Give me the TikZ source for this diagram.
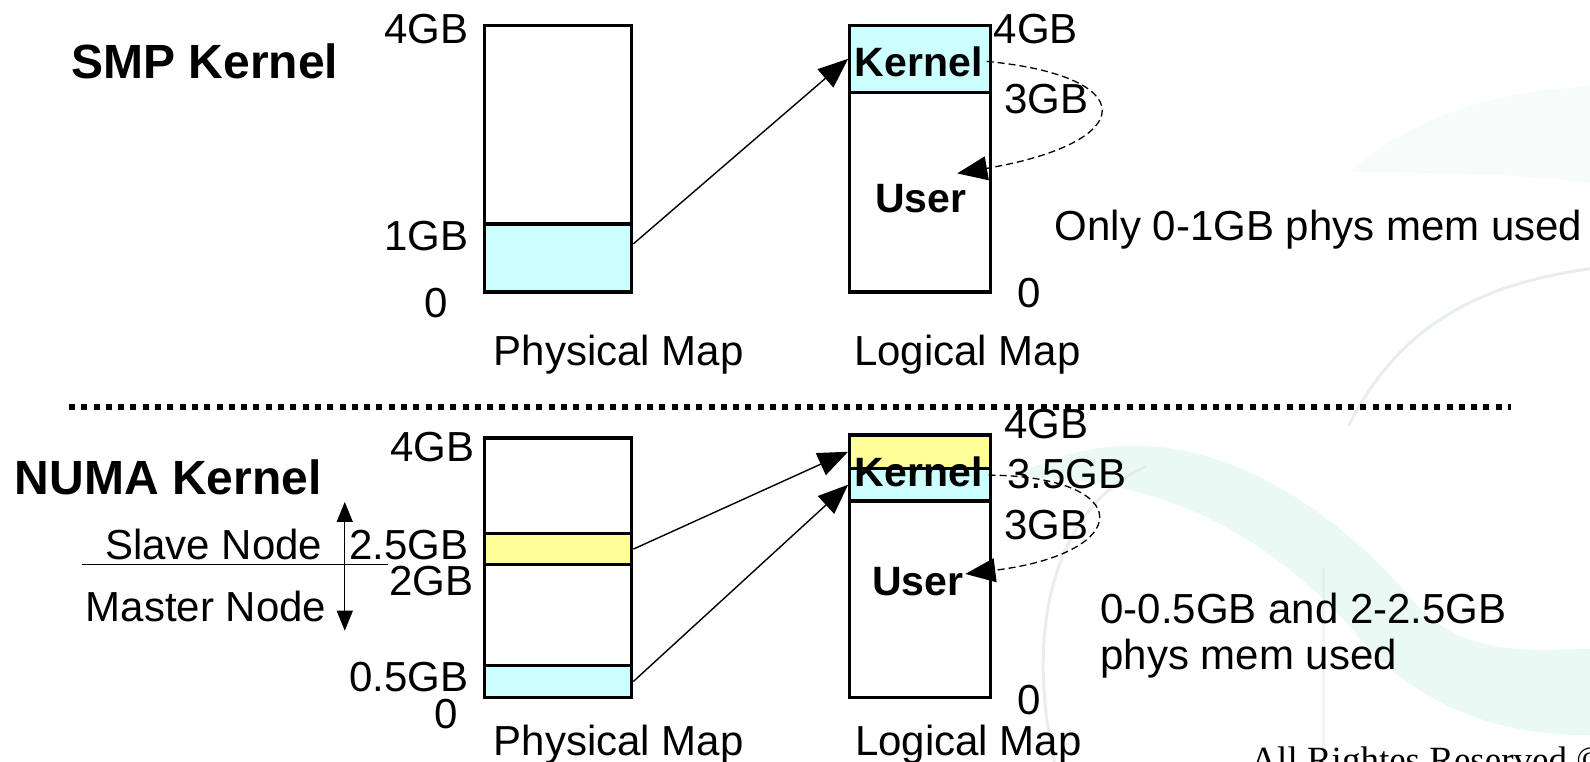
\documentclass[tikz,border=0pt]{standalone}
\usepackage{fontspec}
\setmainfont{Liberation Sans}
\newfontfamily\footerfont{Liberation Serif}
\usetikzlibrary{arrows.meta,calc,fit}

\definecolor{cyanfill}{RGB}{204,255,255}
\definecolor{yellowfill}{RGB}{255,255,153}
\definecolor{mint}{RGB}{205,242,228}
\definecolor{swirl}{RGB}{218,228,225}

\begin{document}
\begin{tikzpicture}[x=1.01403pt,y=-1.01403pt,
  lbl/.style={inner sep=0pt, font=\fontsize{42}{48}\selectfont},
  boldlbl/.style={inner sep=0pt, font=\fontsize{41}{48}\selectfont\bfseries},
  title/.style={inner sep=0pt, font=\fontsize{48}{56}\selectfont\bfseries},
  seg/.style={draw, line width=3.3pt, inner sep=0pt},
  maparrow/.style={line width=1.4pt, -{Triangle[length=30pt,width=24pt]}},
  looparrow/.style={dash pattern=on 7pt off 4pt, line width=1.3pt, -{Triangle[length=30pt,width=24pt]}},
  nodearrow/.style={line width=1.3pt, {Triangle[length=20pt,width=16pt]}-{Triangle[length=20pt,width=16pt]}},
]
\useasboundingbox (0,0) rectangle (1568,751);
\clip (0,0) rectangle (1568,751);
\fill[white] (0,0) rectangle (1568,751);

% faint background swirl
\fill[mint, opacity=0.4]
  (1000,470) .. controls (1150,390) and (1300,480) .. (1400,600)
  .. controls (1450,650) and (1520,640) .. (1568,640)
  -- (1568,725) .. controls (1480,725) and (1410,700) .. (1350,640)
  .. controls (1260,530) and (1150,470) .. (1000,470) -- cycle;
\fill[mint, opacity=0.18]
  (1330,170) .. controls (1400,110) and (1480,90) .. (1568,85)
  -- (1568,180) .. controls (1480,170) and (1400,170) .. (1330,170) -- cycle;
\draw[swirl, line width=3pt, opacity=0.6]
  (1040,751) .. controls (1010,620) and (1040,500) .. (1130,460);
\draw[swirl, line width=3pt, opacity=0.6]
  (1330,420) .. controls (1380,320) and (1460,280) .. (1568,265);
\draw[swirl, line width=3pt, opacity=0.4] (1305,560) -- (1305,751);

% ---------------- SMP kernel ----------------
\node[title, anchor=base] (smp) at (202,77) {SMP Kernel};

% physical map
\node[seg, fill=white, fit={(478,25)(623,288)}] (pA) {};
\node[seg, fill=cyanfill, fit={(478,221)(623,288)}] (pALow) {};
\node[lbl, anchor=base east] (pA4) at (462,43) {4GB};
\node[lbl, anchor=base east] (pA1) at (462,247) {1GB};
\node[lbl, anchor=base] (pA0) at (430,313) {0};
\node[lbl, anchor=base] (pAcap) at (610,360) {Physical Map};

% logical map
\node[seg, fill=white, fit={(838,25)(977,288)}] (lA) {};
\node[seg, fill=cyanfill, fit={(838,25)(977,91)}] (lAKern) {};
\node[boldlbl, anchor=base] (kA) at (906,75) {Kernel};
\node[boldlbl, anchor=base] (uA) at (908,210) {User};
\node[lbl, anchor=base west] (lA4) at (980,43) {4GB};
\node[lbl, anchor=base west] (lA3) at (990,112) {3GB};
\node[lbl, anchor=base] (lA0) at (1015,303) {0};
\node[lbl, anchor=base] (lAcap) at (954,360) {Logical Map};
\node[lbl, anchor=base west] (noteA) at (1040,237) {Only 0-1GB phys mem used};

\coordinate (uAin) at (944,171);
\draw[maparrow] ($(pALow.north east)!0.3!(pALow.south east)$) -- (lAKern.west);
\draw[looparrow] ([xshift=4pt]kA.east) .. controls (1125,75) and (1125,140) .. (uAin);

% separator
\coordinate (sepL) at (68,401);
\coordinate (sepR) at (1490,401);
\draw[line width=6pt, dash pattern=on 6pt off 6.3pt] (sepL) -- (sepR);

% ---------------- NUMA kernel ----------------
\node[title, anchor=base] (numa) at (166,488) {NUMA Kernel};

% node split marker
\coordinate (divL) at (81,557);
\coordinate (divR) at (383,557);
\draw[line width=1.3pt] (divL) -- (divR);
\coordinate (nsTop) at (340,495);
\coordinate (nsBot) at (340,622);
\draw[nodearrow] (nsTop) -- (nsBot);
\node[lbl, anchor=base east] (slave) at (318,552) {Slave Node};
\node[lbl, anchor=base east] (master) at (322,613) {Master Node};

% physical map
\node[seg, fill=white, fit={(478,432)(623,688)}] (pB) {};
\node[seg, fill=yellowfill, fit={(478,526)(623,557)}] (pBYel) {};
\node[seg, fill=cyanfill, fit={(478,656)(623,688)}] (pBCy) {};
\node[lbl, anchor=base east] (pB4) at (468,455) {4GB};
\node[lbl, anchor=base east] (pB25) at (462,552) {2.5GB};
\node[lbl, anchor=base east] (pB2) at (467,587) {2GB};
\node[lbl, anchor=base east] (pB05) at (462,682) {0.5GB};
\node[lbl, anchor=base] (pB0) at (440,718) {0};
\node[lbl, anchor=base] (pBcap) at (610,745) {Physical Map};

% logical map
\node[seg, fill=white, fit={(838,429)(977,688)}] (lB) {};
\node[seg, fill=yellowfill, fit={(838,429)(977,462)}] (lBYel) {};
\node[seg, fill=cyanfill, fit={(838,462)(977,494)}] (lBCy) {};
\node[boldlbl, anchor=base] (kB) at (906,480) {Kernel};
\node[boldlbl, anchor=base] (uB) at (905,587) {User};
\node[lbl, anchor=base west] (lB4) at (990,432) {4GB};
\node[lbl, anchor=base west] (lB35) at (993,482) {3.5GB};
\node[lbl, anchor=base west] (lB3) at (990,532) {3GB};
\node[lbl, anchor=base] (lB0) at (1015,705) {0};
\node[lbl, anchor=base] (lBcap) at (955,745) {Logical Map};
\node[lbl, anchor=base west] (noteB1) at (1085,615) {0-0.5GB and 2-2.5GB};
\node[lbl, anchor=base west] (noteB2) at (1085,660) {phys mem used};

\coordinate (uBin) at (952,566);
\draw[maparrow] (pBYel.east) -- (lBYel.west);
\draw[maparrow] (pBCy.east) -- (lBCy.west);
\draw[looparrow] ([xshift=6pt,yshift=-3pt]kB.east) .. controls (1120,470) and (1120,545) .. (uBin);

% footer
\node[anchor=base west, inner sep=0pt, font=\footerfont\fontsize{37}{40}\selectfont] (footer) at (1233,762) {All Rightes Reserved ©};
\end{tikzpicture}
\end{document}
